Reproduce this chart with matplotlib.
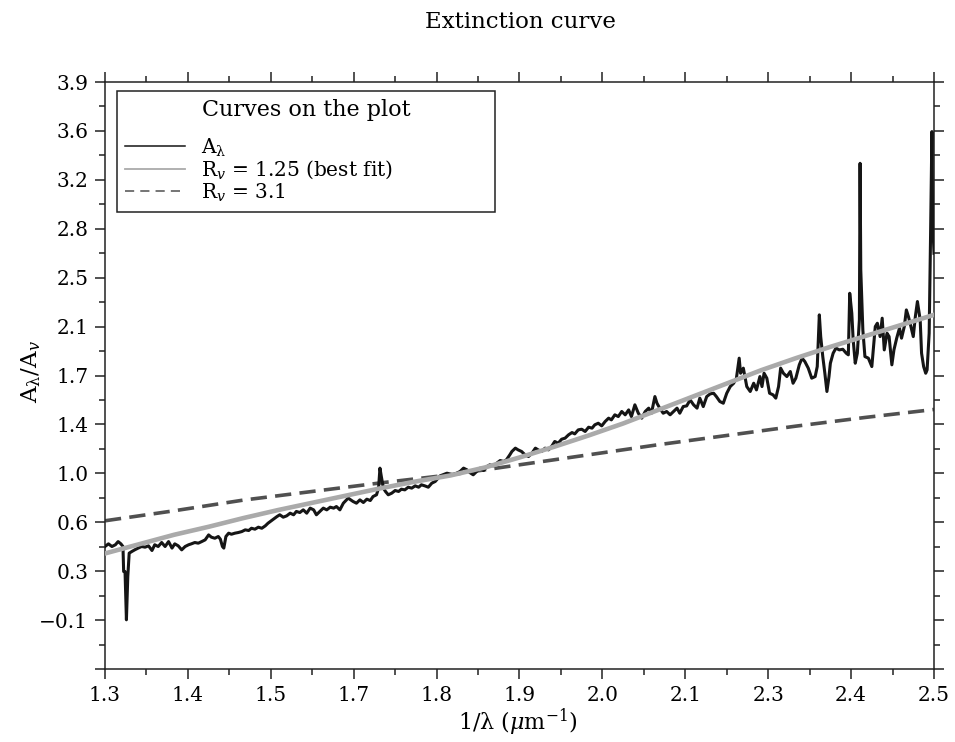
import numpy as np
import matplotlib
matplotlib.use('Agg')
import matplotlib.pyplot as plt
from matplotlib.lines import Line2D

plt.rcParams['font.family'] = ['DejaVu Serif']
plt.rcParams['mathtext.fontset'] = 'dejavuserif'

inv_wl = [
    1.300, 1.305, 1.310, 1.315, 1.319, 1.323, 1.326, 1.327, 1.329, 1.331,
    1.333, 1.335, 1.339, 1.343, 1.348, 1.353, 1.358, 1.363, 1.368, 1.372,
    1.377, 1.382, 1.387, 1.392, 1.397, 1.401, 1.406, 1.411, 1.416, 1.421,
    1.425, 1.430, 1.435, 1.440, 1.445, 1.450, 1.454, 1.459, 1.464, 1.467,
    1.470, 1.472, 1.475, 1.479, 1.483, 1.488, 1.493, 1.498, 1.503, 1.508,
    1.512, 1.517, 1.522, 1.527, 1.532, 1.536,
    1.549, 1.553, 1.558, 1.563, 1.568, 1.573, 1.577, 1.582, 1.587, 1.592,
    1.597, 1.602, 1.606, 1.611, 1.616, 1.621, 1.626, 1.631, 1.635, 1.640,
    1.645, 1.652, 1.659, 1.664, 1.669, 1.674, 1.679, 1.684, 1.688, 1.693,
    1.696, 1.698, 1.700, 1.703, 1.706, 1.710, 1.715, 1.720, 1.725, 1.729,
    1.734, 1.739, 1.744, 1.749, 1.754, 1.758, 1.763, 1.768, 1.773, 1.778,
    1.785, 1.795, 1.804, 1.814, 1.819, 1.824, 1.828, 1.833, 1.838, 1.843,
    1.848, 1.853, 1.857, 1.862, 1.867, 1.872, 1.877, 1.881, 1.886, 1.889,
    1.894, 1.898, 1.903, 1.908, 1.913, 1.918, 1.923, 1.927, 1.932, 1.937,
    1.942, 1.947, 1.951, 1.956, 1.961, 1.966, 1.971, 1.976, 1.980, 1.985,
    1.990, 1.995, 2.000, 2.005,
    2.009, 2.014, 2.019, 2.024, 2.029, 2.033, 2.038, 2.043, 2.048, 2.053,
    2.058, 2.062, 2.067, 2.072, 2.077, 2.082, 2.087, 2.091, 2.096, 2.099,
    2.103, 2.108, 2.113, 2.118, 2.123, 2.128, 2.132, 2.137, 2.142, 2.147,
    2.152, 2.157, 2.161, 2.166, 2.171, 2.176, 2.181, 2.185, 2.190, 2.195,
    2.200, 2.205, 2.210, 2.214, 2.218, 2.220, 2.224, 2.229, 2.234, 2.239,
    2.243,
    2.248, 2.251, 2.254, 2.258, 2.262, 2.267, 2.271, 2.275, 2.278, 2.282,
    2.287, 2.292, 2.296, 2.300, 2.305, 2.309, 2.313, 2.318, 2.323, 2.328,
    2.331, 2.334, 2.336, 2.339, 2.342, 2.345, 2.348, 2.350, 2.354, 2.358,
    2.363, 2.368, 2.373, 2.376, 2.378, 2.381, 2.383, 2.386, 2.389, 2.392,
    2.393, 2.394, 2.397, 2.400, 2.405, 2.410, 2.415, 2.418, 2.422, 2.425,
    2.428, 2.432, 2.435, 2.439, 2.442, 2.446, 2.450, 2.453, 2.457, 2.460,
    2.463, 2.466, 2.470, 2.473, 2.476, 2.480, 2.482, 2.485, 2.488, 2.490,
    2.493, 2.495, 2.497, 2.498, 2.500,
]
a_ratio = [
    0.452, 0.472, 0.452, 0.465, 0.489, 0.472, 0.452, 0.264, 0.264, -0.098,
    0.227, 0.402, 0.415, 0.427, 0.440, 0.452, 0.447, 0.457, 0.422, 0.465,
    0.452, 0.482, 0.452, 0.489, 0.440, 0.472, 0.457, 0.427, 0.452, 0.465,
    0.472, 0.482, 0.477, 0.489, 0.502, 0.539, 0.522, 0.514, 0.527, 0.507,
    0.452, 0.440, 0.527, 0.552, 0.544, 0.552, 0.557, 0.564, 0.577, 0.572,
    0.589, 0.582, 0.597, 0.589, 0.607, 0.627,
    0.677, 0.690, 0.672, 0.682, 0.702, 0.690, 0.715, 0.707, 0.727, 0.702,
    0.740, 0.727, 0.690, 0.715, 0.740, 0.727, 0.747, 0.740, 0.752, 0.727,
    0.777, 0.815, 0.790, 0.777, 0.802, 0.782, 0.807, 0.797, 0.827, 0.840,
    0.890, 1.040, 0.977, 0.890, 0.865, 0.840, 0.852, 0.872, 0.865, 0.882,
    0.877, 0.897, 0.890, 0.907, 0.897, 0.915, 0.907, 0.897, 0.927, 0.940,
    0.982, 1.002, 0.990, 1.015, 1.040, 1.027, 1.007, 0.990, 1.015, 1.040,
    1.022, 1.052, 1.065, 1.057, 1.077, 1.097, 1.090, 1.102, 1.140, 1.165,
    1.190, 1.177, 1.165, 1.140, 1.127, 1.152, 1.190, 1.177, 1.165, 1.190,
    1.177, 1.207, 1.240, 1.227, 1.257, 1.265, 1.290, 1.307, 1.297, 1.327,
    1.332, 1.315, 1.347, 1.340,
    1.365, 1.377, 1.357, 1.390, 1.415, 1.402, 1.440, 1.427, 1.465, 1.440,
    1.477, 1.427, 1.515, 1.452, 1.415, 1.465, 1.490, 1.452, 1.577, 1.527,
    1.490, 1.452, 1.465, 1.440, 1.465, 1.490, 1.452, 1.502, 1.507, 1.552,
    1.515, 1.490, 1.565, 1.502, 1.577, 1.597, 1.602, 1.577, 1.540, 1.527,
    1.602, 1.652, 1.677, 1.715, 1.865, 1.752, 1.790, 1.652, 1.615, 1.677,
    1.627,
    1.727, 1.652, 1.752, 1.715, 1.602, 1.590, 1.565, 1.652, 1.790, 1.752,
    1.727, 1.765, 1.677, 1.715, 1.815, 1.865, 1.840, 1.790, 1.715, 1.727,
    1.802, 2.190, 2.027, 1.877, 1.752, 1.615, 1.727, 1.827, 1.902, 1.940,
    1.927, 1.932, 1.902, 1.890, 2.352, 2.202, 2.002, 1.827, 1.902, 2.152,
    3.327, 2.527, 2.077, 1.877, 1.865, 1.802, 2.102, 2.127, 2.027, 2.165,
    1.927, 2.052, 2.027, 1.815, 1.927, 2.015, 2.090, 2.015, 2.102, 2.227,
    2.177, 2.115, 2.027, 2.177, 2.290, 2.152, 1.902, 1.802, 1.752, 1.777,
    2.052, 2.777, 3.565, 2.902, 2.652,
]

# model curves
fit_x = [1.30, 1.35, 1.40, 1.45, 1.50, 1.55, 1.60, 1.65, 1.70, 1.75, 1.80,
         1.85, 1.90, 1.95, 2.00, 2.05, 2.10, 2.15, 2.20, 2.25, 2.30, 2.35,
         2.40, 2.45, 2.50]
fit_rv125 = [0.40, 0.47, 0.54, 0.60, 0.665, 0.725, 0.78, 0.835, 0.89, 0.94,
             0.985, 1.045, 1.12, 1.20, 1.285, 1.375, 1.475, 1.575, 1.675,
             1.775, 1.865, 1.95, 2.03, 2.11, 2.19]
ccm_x = [1.3, 1.4, 1.5, 1.6, 1.7, 1.8, 1.9, 2.0, 2.1, 2.2, 2.3, 2.4, 2.5]
ccm_rv31 = [0.645, 0.72, 0.80, 0.865, 0.93, 0.99, 1.065, 1.14, 1.215,
            1.285, 1.355, 1.42, 1.48]

x_min, x_max = 1.3, 2.5
y_min, y_max = -0.467, 3.937
xtick_labels = ['1.3', '1.4', '1.5', '1.7', '1.8', '1.9', '2.0', '2.1',
                '2.3', '2.4', '2.5']
ytick_labels = ['', '\u22120.1', '0.3', '0.6', '1.0', '1.4', '1.7', '2.1',
                '2.5', '2.8', '3.2', '3.6', '3.9']

fig = plt.figure(figsize=(9.55, 7.42), dpi=100)
ax = fig.add_axes([105 / 955, 1 - 669 / 742, 829 / 955, 587 / 742])

ax.plot(inv_wl, a_ratio, color='#151515', lw=2.2, zorder=3)
ax.plot(fit_x, fit_rv125, color='#aaaaaa', lw=3.3, zorder=4)
dash, = ax.plot(ccm_x, ccm_rv31, color='#505050', lw=2.6, zorder=2)
dash.set_dashes([4.5, 2.3])

ax.set_xlim(x_min, x_max)
ax.set_ylim(y_min, y_max)

xt = np.linspace(x_min, x_max, len(xtick_labels))
yt = np.linspace(y_min, y_max, len(ytick_labels))
ax.set_xticks(xt)
ax.set_xticklabels(xtick_labels)
ax.set_yticks(yt)
ax.set_yticklabels(ytick_labels)
ax.set_xticks((xt[:-1] + xt[1:]) / 2, minor=True)
ax.set_yticks((yt[:-1] + yt[1:]) / 2, minor=True)

ax.tick_params(which='both', direction='out', top=True, right=True,
               width=1.1, labelsize=14.5, color='#222222')
ax.tick_params(which='major', length=7, pad=5)
ax.tick_params(which='minor', length=4)
for s in ax.spines.values():
    s.set_linewidth(1.1)
    s.set_color('#222222')

handles = [
    Line2D([], [], color='#151515', lw=1.1),
    Line2D([], [], color='#aaaaaa', lw=1.3),
    Line2D([], [], color='#505050', lw=1.1, dashes=[6, 4]),
]
labels = [r'A$_{\mathrm{\lambda}}$', r'R$_v$ = 1.25 (best fit)', r'R$_v$ = 3.1']
leg = ax.legend(handles, labels, title='Curves on the plot',
                loc='upper left', bbox_to_anchor=(0.0145, 0.5, 0.456, 0.4847),
                mode='expand', fontsize=14.5, title_fontsize=16,
                fancybox=False, framealpha=1, edgecolor='#222222',
                handlelength=3.0, handletextpad=0.75, labelspacing=0.0,
                borderpad=0.4, borderaxespad=0)
leg.get_frame().set_linewidth(1.1)
leg._legend_box.sep = 11

fig.text(520 / 955, 1 - 22 / 742, 'Extinction curve', ha='center', va='center', fontsize=16.5)
fig.text(31 / 955, 1 - 372 / 742, r'A$_{\mathrm{\lambda}}$/A$_v$', ha='center', va='center',
         rotation=90, fontsize=16.5)
fig.text(518 / 955, 1 - 722 / 742, r'1/λ ($\mu$m$^{-1}$)', ha='center',
         va='center', fontsize=16)

fig.savefig('out.png', dpi=100)
